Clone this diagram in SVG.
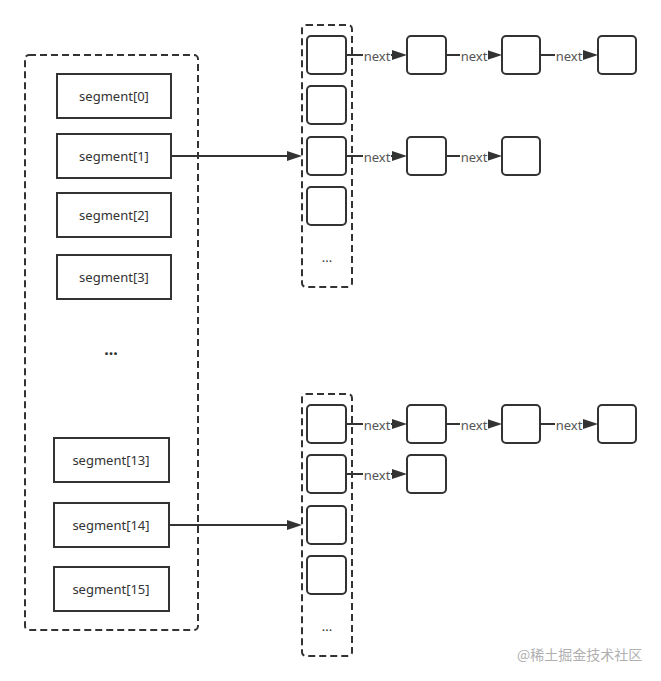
<svg xmlns="http://www.w3.org/2000/svg" width="661" height="681" viewBox="0 0 661 681">
<style>
.dash{fill:none;stroke:#333;stroke-width:2;stroke-dasharray:7,4}
.seg{fill:#fff;stroke:#333;stroke-width:2}
.sq{fill:#fff;stroke:#333;stroke-width:2}
.t{font-family:"Noto Sans","Liberation Sans",sans-serif;font-size:13px;fill:#333;text-anchor:middle;dominant-baseline:central}
.lbl{font-family:"Noto Sans","Liberation Sans",sans-serif;font-size:13px;fill:#555;text-anchor:middle;dominant-baseline:central}
.ln{fill:none;stroke:#333;stroke-width:2;marker-end:url(#ah)}
.lb{fill:#fff}
.wm{font-family:"Noto Sans CJK SC",sans-serif;font-size:14px;fill:#b0b0b0}
</style>
<defs>
<marker id="ah" markerUnits="userSpaceOnUse" markerWidth="15" markerHeight="10" refX="3" refY="5" orient="auto">
<path d="M0,0 L15,5 L0,10 z" fill="#333"/>
</marker>
</defs>
<rect width="661" height="681" fill="#fff"/>
<g id="segments">
<rect class="dash" x="25" y="55" width="173" height="575" rx="4"/>
<g id="seg0"><rect class="seg" x="57" y="74" width="114" height="44"/><text class="t" x="114" y="96">segment[0]</text></g>
<g id="seg1"><rect class="seg" x="57" y="134" width="114" height="44"/><text class="t" x="114" y="156">segment[1]</text></g>
<g id="seg2"><rect class="seg" x="57" y="193" width="114" height="44"/><text class="t" x="114" y="215">segment[2]</text></g>
<g id="seg3"><rect class="seg" x="57" y="255" width="114" height="44"/><text class="t" x="114" y="277">segment[3]</text></g>
<text class="t" x="111" y="349" style="font-size:16px;font-weight:bold">...</text>
<g id="seg13"><rect class="seg" x="54" y="438" width="115" height="44"/><text class="t" x="111" y="460">segment[13]</text></g>
<g id="seg14"><rect class="seg" x="54" y="503" width="115" height="44"/><text class="t" x="111" y="525">segment[14]</text></g>
<g id="seg15"><rect class="seg" x="54" y="567" width="115" height="44"/><text class="t" x="111" y="589">segment[15]</text></g>
</g>
<g id="connectors">
<line class="ln" x1="171" y1="156" x2="290" y2="156"/>
<line class="ln" x1="169" y1="525" x2="290" y2="525"/>
<line class="ln" x1="346" y1="55" x2="395" y2="55"/>
<line class="ln" x1="446" y1="55" x2="490" y2="55"/>
<line class="ln" x1="540" y1="55" x2="586" y2="55"/>
<line class="ln" x1="346" y1="156" x2="395" y2="156"/>
<line class="ln" x1="446" y1="156" x2="490" y2="156"/>
<line class="ln" x1="346" y1="424" x2="395" y2="424"/>
<line class="ln" x1="446" y1="424" x2="490" y2="424"/>
<line class="ln" x1="540" y1="424" x2="586" y2="424"/>
<line class="ln" x1="346" y1="474" x2="395" y2="474"/>
<rect class="lb" x="363" y="48" width="28" height="14"/><text class="lbl" x="377" y="56">next</text>
<rect class="lb" x="460" y="48" width="28" height="14"/><text class="lbl" x="474" y="56">next</text>
<rect class="lb" x="555" y="48" width="28" height="14"/><text class="lbl" x="569" y="56">next</text>
<rect class="lb" x="363" y="149" width="28" height="14"/><text class="lbl" x="377" y="157">next</text>
<rect class="lb" x="460" y="149" width="28" height="14"/><text class="lbl" x="474" y="157">next</text>
<rect class="lb" x="363" y="417" width="28" height="14"/><text class="lbl" x="377" y="425">next</text>
<rect class="lb" x="460" y="417" width="28" height="14"/><text class="lbl" x="474" y="425">next</text>
<rect class="lb" x="555" y="417" width="28" height="14"/><text class="lbl" x="569" y="425">next</text>
<rect class="lb" x="363" y="467" width="28" height="14"/><text class="lbl" x="377" y="475">next</text>
</g>
<g id="bucket1">
<rect class="dash" x="302" y="25" width="50" height="262" rx="4"/>
<rect class="sq" x="307" y="36" width="39" height="38" rx="4"/>
<rect class="sq" x="307" y="86" width="39" height="38" rx="4"/>
<rect class="sq" x="307" y="137" width="39" height="38" rx="4"/>
<rect class="sq" x="307" y="187" width="39" height="38" rx="4"/>
<text class="t" x="327" y="257">...</text>
</g>
<g id="bucket2">
<rect class="dash" x="302" y="394" width="50" height="262" rx="4"/>
<rect class="sq" x="307" y="405" width="39" height="38" rx="4"/>
<rect class="sq" x="307" y="455" width="39" height="38" rx="4"/>
<rect class="sq" x="307" y="506" width="39" height="38" rx="4"/>
<rect class="sq" x="307" y="556" width="39" height="38" rx="4"/>
<text class="t" x="327" y="626">...</text>
</g>
<g id="chain1">
<rect class="sq" x="407" y="36" width="39" height="38" rx="4"/>
<rect class="sq" x="502" y="36" width="38" height="38" rx="4"/>
<rect class="sq" x="598" y="36" width="38" height="38" rx="4"/>
</g>
<g id="chain2">
<rect class="sq" x="407" y="137" width="39" height="38" rx="4"/>
<rect class="sq" x="502" y="137" width="38" height="38" rx="4"/>
</g>
<g id="chain3">
<rect class="sq" x="407" y="405" width="39" height="38" rx="4"/>
<rect class="sq" x="502" y="405" width="38" height="38" rx="4"/>
<rect class="sq" x="598" y="405" width="38" height="38" rx="4"/>
</g>
<g id="chain4">
<rect class="sq" x="407" y="455" width="39" height="38" rx="4"/>
</g>
<text class="wm" x="517" y="660">@稀土掘金技术社区</text>
</svg>
